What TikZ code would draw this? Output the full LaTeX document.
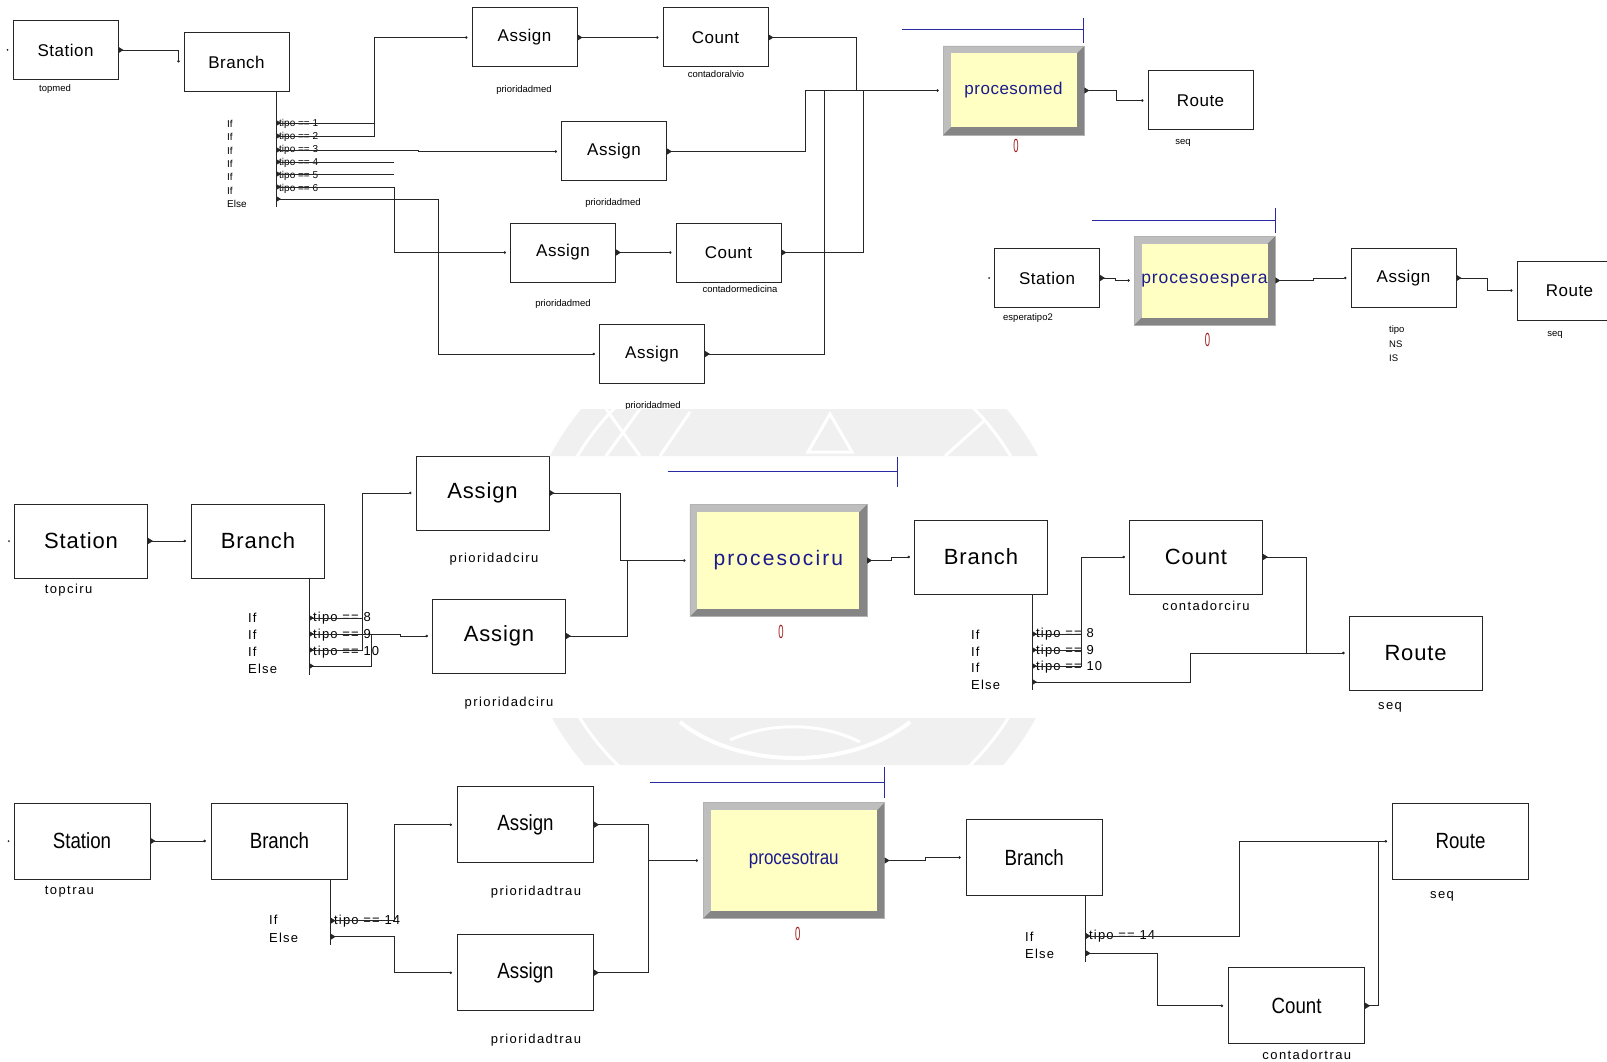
\documentclass[tikz,border=0pt]{standalone}
\usepackage{fontspec}
\setmainfont{Liberation Sans}
\usetikzlibrary{arrows.meta,calc}

\definecolor{procblue}{HTML}{1A1A8C}
\definecolor{procyellow}{HTML}{FFFFC4}
\definecolor{bevlight}{HTML}{BEBEBE}
\definecolor{bevdark}{HTML}{858585}
\definecolor{cntred}{HTML}{A01E1E}
\definecolor{qblue}{HTML}{2A2AA0}
\definecolor{wmark}{HTML}{F0F0F0}

\tikzset{
  modbox/.style={draw=black!85, line width=1pt, fill=white, inner sep=0pt, text=black},
  boxA/.style={modbox, minimum width=105pt, minimum height=59pt,
    font=\fontsize{17}{17}\selectfont\addfontfeature{LetterSpace=3}},
  boxB/.style={modbox, minimum width=133pt, minimum height=74pt,
    font=\fontsize{22}{22}\selectfont\addfontfeature{LetterSpace=4}},
  boxC/.style={modbox, minimum width=136pt, minimum height=76pt,
    font=\fontsize{22}{22}\selectfont\addfontfeature{FakeStretch=0.85}},
  procbox/.style={draw=black!30, line width=0.6pt, fill=bevdark, inner sep=0pt, text=procblue,
    path picture={
      \fill[bevlight] (path picture bounding box.north west) -- (path picture bounding box.north east)
        -- ($(path picture bounding box.north east)+(-7.5,7.5)$)
        -- ($(path picture bounding box.south west)+(7.5,-7.5)$)
        -- (path picture bounding box.south west) -- cycle;
      \fill[procyellow] ($(path picture bounding box.north west)+(7.5,7.5)$)
        rectangle ($(path picture bounding box.south east)+(-7.5,-7.5)$);
    }},
  tagA/.style={inner sep=0pt, font=\fontsize{9.5}{10}\selectfont},
  tagB/.style={inner sep=0pt, font=\fontsize{13}{14}\selectfont\addfontfeature{LetterSpace=11}},
  condA/.style={inner sep=0pt, anchor=west, font=\fontsize{10}{10}\selectfont},
  condB/.style={inner sep=0pt, anchor=west, font=\fontsize{13}{13}\selectfont\addfontfeature{LetterSpace=9}},
  qty/.style={inner sep=0pt, text=cntred, font=\fontsize{19}{19}\selectfont\addfontfeature{FakeStretch=0.5}},
  link/.style={draw=black!85, line width=0.9pt, {Triangle[reversed,length=5pt,width=6pt]}-{Circle[length=2.5pt]}},
  tie/.style={draw=black!85, line width=0.9pt, {Triangle[reversed,length=5pt,width=6pt]}-},
  bus/.style={draw=black!85, line width=0.9pt},
  queue/.style={draw=qblue, line width=1pt},
}

\begin{document}
\begin{tikzpicture}[x=1pt,y=-1pt]
\clip (0,0) rectangle (1607,1062);
\fill[white] (0,0) rectangle (1607,1062);

% ---------------- medical area ----------------
\node[boxA] (st1) at (65.5,50) {Station};
\node[boxA] (br1) at (236.5,62.5) {Branch};
\node[boxA] (as1) at (524.5,37.5) {Assign};
\node[boxA] (co1) at (715.5,37.5) {Count};
\node[boxA] (as2) at (614,151.5) {Assign};
\node[boxA] (as3) at (563,252.5) {Assign};
\node[boxA] (co2) at (728.5,252.5) {Count};
\node[boxA] (as4) at (652,354) {Assign};
\node[procbox, minimum width=141pt, minimum height=89pt,
  font=\fontsize{17}{17}\selectfont\addfontfeature{LetterSpace=3}] (pm) at (1013.5,90.5) {procesomed};
\node[boxA] (ro1) at (1200.5,100.5) {Route};

\node[tagA] (t1) at (55,89) {topmed};
\node[tagA] (t2) at (524,90) {prioridadmed};
\node[tagA] (t3) at (716,74) {contadoralvio};
\node[tagA] (t4) at (613,203) {prioridadmed};
\node[tagA] (t5) at (563,304) {prioridadmed};
\node[tagA] (t6) at (740,289) {contadormedicina};
\node[tagA] (t7) at (653,406) {prioridadmed};
\node[tagA] (t8) at (1183,143) {seq};
\node[qty] (q1) at (1016,146) {0};
\draw[queue] (902,30) -- (1083,30) (1083,18) -- (1083,43);

\fill[black!85] ($(st1.west)+(-5,0)$) circle (1pt);
\foreach \yy/\nm in {123/1,136/2,150/3,162/4,174/5,187/6,199/7}
  \coordinate (b1o\nm) at (276,\yy);
\draw[bus] (br1.south -| b1o1) -- (276,207);
\foreach \yy/\tx in {124/If,137/If,151/If,164/If,177/If,191/If,204/Else}
  \node[condA] at (227,\yy) {\tx};
\foreach \yy/\tx in {124/1,137/2,150/3,163/4,176/5,189/6}
  \node[condA] at (279,\yy) {tipo == \tx};

\draw[link] (st1.east) -| ($(br1.west)+(-5,0)$);
\draw[tie] (b1o1) -- (374,123);
\draw[link] (b1o2) -| (374,37.5) -- ($(as1.west)+(-4,0)$);
\draw[link] (b1o3) -- (418,150) -- (418,151.5) -- ($(as2.west)+(-4,0)$);
\draw[tie] (b1o4) -- (394,162);
\draw[tie] (b1o5) -- (394,174);
\draw[link] (b1o6) -| (394,252.5) -- ($(as3.west)+(-4,0)$);
\draw[link] (b1o7) -| (438,354) -- ($(as4.west)+(-4,0)$);
\draw[link] (as1.east) -- ($(co1.west)+(-4,0)$);
\draw[link] (as3.east) -- ($(co2.west)+(-4,0)$);
\draw[tie] (co1.east) -| (856,90.5);
\draw[link] (as2.east) -| (805,90.5) -- ($(pm.west)+(-4,0)$);
\draw[tie] (co2.east) -| (863,90.5);
\draw[tie] (as4.east) -| (824,90.5);
\draw[link] (pm.east) -- (1116,90.5) |- ($(ro1.west)+(-4,0)$);

% ---------------- waiting area ----------------
\node[boxA] (st2) at (1047,278) {Station};
\node[procbox, minimum width=141pt, minimum height=89pt,
  font=\fontsize{17.5}{17.5}\selectfont\addfontfeature{LetterSpace=5}] (pe) at (1204.5,280.5) {procesoespera};
\node[boxA] (as5) at (1403.5,278) {Assign};
\node[boxA] (ro2) at (1569.5,290.5) {Route};

\node[tagA] (t9) at (1028,318) {esperatipo2};
\node[qty] (q2) at (1207.5,340) {0};
\node[tagA, anchor=west] (t10) at (1389,330) {tipo};
\node[tagA, anchor=west] (t11) at (1389,344) {NS};
\node[tagA, anchor=west] (t12) at (1389,358) {IS};
\node[tagA] (t13) at (1555,335) {seq};
\draw[queue] (1092,220) -- (1275,220) (1275,208) -- (1275,233);

\fill[black!85] ($(st2.west)+(-5,0)$) circle (1pt);
\draw[link] (st2.east) -- (1115,278) |- ($(pe.west)+(-4,0)$);
\draw[link] (pe.east) -- (1313,280.5) |- ($(as5.west)+(-4,0)$);
\draw[link] (as5.east) -- (1487,278) |- ($(ro2.west)+(-4,0)$);

% ---------------- surgery area ----------------
\node[boxB] (st3) at (81,541) {Station};
\node[boxB] (br2) at (258,541) {Branch};
\node[boxB] (as6) at (482.5,493) {Assign};
\node[boxB] (as7) at (499,636) {Assign};
\node[procbox, minimum width=177pt, minimum height=112pt,
  font=\fontsize{21}{21}\selectfont\addfontfeature{LetterSpace=10}] (pc) at (778.3,560.5) {procesociru};
\node[boxB] (br3) at (981,557) {Branch};
\node[boxB] (co3) at (1196,557) {Count};
\node[boxB] (ro3) at (1415.6,653) {Route};

\node[tagB] (t14) at (68.6,590) {topciru};
\node[tagB] (t15) at (494,559) {prioridadciru};
\node[tagB] (t16) at (509,703) {prioridadciru};
\node[tagB] (t17) at (1206,606) {contadorciru};
\node[tagB] (t18) at (1390,707) {seq};
\node[qty] (q3) at (781,632) {0};
\draw[queue] (667.7,471.7) -- (897.7,471.7) (897.7,456.7) -- (897.7,487.3);

\fill[black!85] ($(st3.west)+(-5,0)$) circle (1pt);
\foreach \yy/\nm in {618/1,634/2,650/3,666/4}
  \coordinate (b2o\nm) at (309,\yy);
\draw[bus] (br2.south -| b2o1) -- (309,675);
\foreach \yy/\tx in {618/If,635/If,652/If,669/Else}
  \node[condB] at (248,\yy) {\tx};
\foreach \yy/\tx in {618/8,635/9,652/10}
  \node[condB] at (313,\yy) {tipo == \tx};

\draw[link] (st3.east) -- ($(br2.west)+(-5,0)$);
\draw[tie] (b2o1) -- (362,618);
\draw[link] (b2o3) -| (362,493) -- ($(as6.west)+(-4,0)$);
\draw[link] (b2o2) -- (400,634) -- (400,636) -- ($(as7.west)+(-4,0)$);
\draw[tie] (b2o4) -| (371,634);
\draw[link] (as6.east) -| (620,560.5) -- ($(pc.west)+(-4,0)$);
\draw[tie] (as7.east) -| (627,560.5);
\draw[link] (pc.east) -- (891,560.5) |- ($(br3.west)+(-4,0)$);

\foreach \yy/\nm in {634/1,650/2,666/3,682/4}
  \coordinate (b3o\nm) at (1032,\yy);
\draw[bus] (br3.south -| b3o1) -- (1032,690);
\foreach \yy/\tx in {635/If,652/If,668/If,685/Else}
  \node[condB] at (971,\yy) {\tx};
\foreach \yy/\tx in {634/8,651/9,667/10}
  \node[condB] at (1036,\yy) {tipo == \tx};

\draw[tie] (b3o1) -- (1081,634);
\draw[tie] (b3o2) -- (1081,650);
\draw[link] (b3o3) -| (1081,557) -- ($(co3.west)+(-4,0)$);
\draw[link] (b3o4) -| (1190,653) -- ($(ro3.west)+(-4,0)$);
\draw[tie] (co3.east) -| (1306,653);

% ---------------- trauma area ----------------
\node[boxC] (st4) at (82,841) {Station};
\node[boxC] (br4) at (279.4,841) {Branch};
\node[boxC] (as8) at (525.5,824.7) {Assign};
\node[boxC] (as9) at (525.5,972.7) {Assign};
\node[procbox, minimum width=181pt, minimum height=115.6pt,
  font=\fontsize{20}{20}\selectfont\addfontfeature{FakeStretch=0.85}] (pt) at (793.8,860.5) {procesotrau};
\node[boxC] (br5) at (1034.2,857.5) {Branch};
\node[boxC] (co4) at (1296.6,1005.8) {Count};
\node[boxC] (ro4) at (1460.5,841.3) {Route};

\node[tagB] (t19) at (69.4,891.7) {toptrau};
\node[tagB] (t20) at (536,892.3) {prioridadtrau};
\node[tagB] (t21) at (536,1040) {prioridadtrau};
\node[tagB] (t22) at (1306.8,1055) {contadortrau};
\node[tagB] (t23) at (1442,896.7) {seq};
\node[qty] (q4) at (797.7,934) {0};
\draw[queue] (650,782.7) -- (884.3,782.7) (884.3,766.7) -- (884.3,798.3);

\fill[black!85] ($(st4.west)+(-5,0)$) circle (1pt);
\coordinate (b4o1) at (330.6,920.7);
\coordinate (b4o2) at (330.6,936.7);
\draw[bus] (br4.south -| b4o1) -- (330.6,945);
\node[condB] at (269,920) {If};
\node[condB] at (269,938) {Else};
\node[condB] at (334,921) {tipo == 14};

\draw[link] (st4.east) -- ($(br4.west)+(-5,0)$);
\draw[link] (b4o1) -| (394.3,824.7) -- ($(as8.west)+(-5,0)$);
\draw[link] (b4o2) -| (394.3,972.7) -- ($(as9.west)+(-5,0)$);
\draw[link] (as8.east) -| (648.3,860.5) -- ($(pt.west)+(-5,0)$);
\draw[tie] (as9.east) -| (648.3,860.5);
\draw[link] (pt.east) -- (925,860.5) |- ($(br5.west)+(-5,0)$);

\coordinate (b5o1) at (1085.7,936);
\coordinate (b5o2) at (1085.7,953.3);
\draw[bus] (br5.south -| b5o1) -- (1085.7,961.7);
\node[condB] at (1025,936.7) {If};
\node[condB] at (1025,954) {Else};
\node[condB] at (1089,936.5) {tipo == 14};

\draw[link] (b5o1) -| (1239.2,841.3) -- ($(ro4.west)+(-5,0)$);
\draw[link] (b5o2) -| (1157.4,1005.8) -- ($(co4.west)+(-5,0)$);
\draw[tie] (co4.east) -| (1378,841.3);

% ---------------- faint seal in the gaps between the areas ----------------
\begin{scope}
  \clip (520,409) rectangle (1045,456) (520,718) rectangle (1045,765);
  \fill[white] (520,409) rectangle (1045,765);
  \fill[wmark] (794,585) circle (276pt);
  \draw[white, line width=3pt] (794,585) circle (252pt);
  \draw[white, line width=3pt] (606,456) -- (640,409) (640,456) -- (606,409);
  \draw[white, line width=3pt] (660,456) -- (690,412);
  \draw[white, line width=3pt] (808,452) -- (830,414) -- (852,452) -- cycle;
  \draw[white, line width=3pt] (945,456) -- (985,420);
  \draw[white, line width=4pt] (680,722) .. controls (740,770) and (850,770) .. (910,722);
  \draw[white, line width=3pt] (730,740) .. controls (770,722) and (820,722) .. (860,742);
\end{scope}
\end{tikzpicture}
\end{document}
